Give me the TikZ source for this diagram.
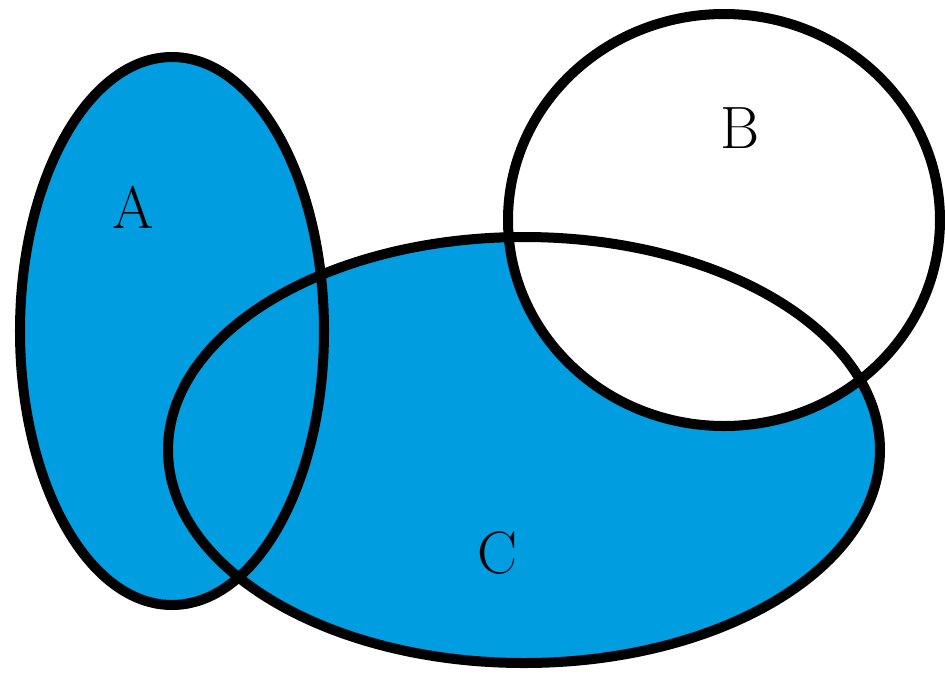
\documentclass[tikz,border=0pt]{standalone}
\begin{document}
\begin{tikzpicture}[x=0.01cm,y=-0.01cm,
  setline/.style={line width=0.1cm,draw=black},
  setlabel/.style={font=\fontsize{17}{20}\selectfont,inner sep=0pt}]
\definecolor{setblue}{RGB}{0,158,224}
\useasboundingbox (0,0) rectangle (945,675);
\fill[setblue] (172,331) ellipse [x radius=152, y radius=274];
\fill[setblue] (524,450) ellipse [x radius=356, y radius=213];
\fill[white] (724,220) ellipse [x radius=216, y radius=206];
\draw[setline] (172,331) ellipse [x radius=152, y radius=274];
\draw[setline] (524,450) ellipse [x radius=356, y radius=213];
\draw[setline] (724,220) ellipse [x radius=216, y radius=206];
\node[setlabel] (la) at (133,207) {A};
\node[setlabel] (lb) at (740,128) {B};
\node[setlabel] (lc) at (497,553) {C};
\end{tikzpicture}
\end{document}
